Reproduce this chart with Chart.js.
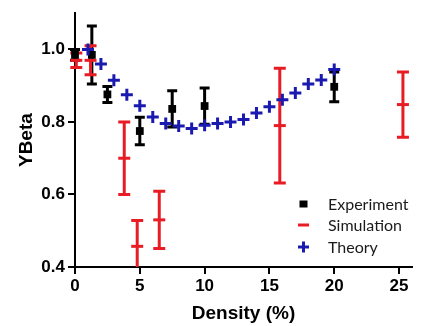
<!DOCTYPE html>
<html>
<head>
<meta charset="utf-8">
<script src="https://cdn.jsdelivr.net/npm/chart.js@4/dist/chart.umd.min.js"></script>
<style>
  html, body { margin: 0; padding: 0; background: #fff; }
  canvas { display: block; }
</style>
</head>
<body>
<canvas id="chart" width="421" height="326"></canvas>
<script>
// data
const seriesNames = ['Experiment', 'Simulation', 'Theory'];

const expX = [0, 1.3, 2.5, 5, 7.5, 10, 20];
const expY = [0.985, 0.985, 0.876, 0.775, 0.836, 0.844, 0.897];
const expErr = [0.015, 0.08, 0.022, 0.038, 0.05, 0.05, 0.041];

const simX = [0.1, 1.2, 3.8, 4.8, 6.5, 15.8, 25.3];
const simY = [0.97, 0.97, 0.70, 0.457, 0.53, 0.79, 0.848];
const simErr = [0.02, 0.04, 0.10, 0.071, 0.079, 0.158, 0.09];

const theoryX = [1, 2, 3, 4, 5, 6, 7, 8, 9, 10, 11, 12, 13, 14, 15, 16, 17, 18, 19, 20];
const theoryY = [1.0, 0.96, 0.915, 0.875, 0.845, 0.814, 0.796, 0.789, 0.782, 0.791,
                 0.796, 0.80, 0.807, 0.825, 0.842, 0.861, 0.88, 0.905, 0.916, 0.945];

const xTicks = [0, 5, 10, 15, 20, 25];
const yTicks = [0.4, 0.6, 0.8, 1.0];

const RED = '#e81c24';
const BLUE = '#1a1ab0';

function pts(xs, ys) {
    return xs.map((x, i) => ({ x: x, y: ys[i] }));
}

// vertical error bars with caps, drawn under the markers
const errorBars = {
    id: 'errorBars',
    beforeDatasetsDraw(chart) {
        const { ctx, chartArea, scales: { x, y } } = chart;
        ctx.save();
        ctx.beginPath();
        ctx.rect(chartArea.left - 10, chartArea.top, chartArea.width + 20, chartArea.height);
        ctx.clip();
        chart.data.datasets.forEach(ds => {
            if (!ds.errors) return;
            ctx.strokeStyle = ds.borderColor;
            ctx.lineWidth = ds.errorWidth;
            ds.data.forEach((p, i) => {
                const px = x.getPixelForValue(p.x);
                const top = y.getPixelForValue(p.y + ds.errors[i]);
                const bot = y.getPixelForValue(p.y - ds.errors[i]);
                const c = ds.capSize / 2;
                ctx.beginPath();
                ctx.moveTo(px, top); ctx.lineTo(px, bot);
                ctx.moveTo(px - c, top); ctx.lineTo(px + c, top);
                ctx.moveTo(px - c, bot); ctx.lineTo(px + c, bot);
                ctx.stroke();
            });
        });
        ctx.restore();
    }
};

// legend in the lower right of the plot
const cornerLegend = {
    id: 'cornerLegend',
    afterDraw(chart) {
        const ctx = chart.ctx;
        const rows = [204, 225, 247];
        ctx.save();
        ctx.font = '16px Lato, "Open Sans", sans-serif';
        ctx.textBaseline = 'middle';
        seriesNames.forEach((name, i) => {
            const ry = rows[i];
            if (i === 0) {
                ctx.fillStyle = '#000';
                ctx.fillRect(299.5, ry - 3.5, 8, 7);
            } else if (i === 1) {
                ctx.strokeStyle = RED; ctx.lineWidth = 3;
                ctx.beginPath(); ctx.moveTo(298, ry); ctx.lineTo(309, ry); ctx.stroke();
            } else {
                ctx.strokeStyle = BLUE; ctx.lineWidth = 3;
                ctx.beginPath();
                ctx.moveTo(298, ry); ctx.lineTo(309, ry);
                ctx.moveTo(303.5, ry - 5.5); ctx.lineTo(303.5, ry + 5.5);
                ctx.stroke();
            }
            ctx.fillStyle = '#1a1a1a';
            ctx.fillText(name, 328, ry + 1);
        });
        ctx.restore();
    }
};

const tickFont = { family: '"Liberation Sans Narrow", "Arial Narrow", Arial, sans-serif', size: 17, weight: 'bold' };
const titleFont = { family: 'Arial, "Liberation Sans", sans-serif', size: 19, weight: 'bold' };

new Chart(document.getElementById('chart'), {
    type: 'scatter',
    data: {
        datasets: [
            {
                label: seriesNames[2],
                data: pts(theoryX, theoryY),
                pointStyle: 'cross',
                pointRadius: 6,
                borderWidth: 3,
                borderColor: BLUE,
                backgroundColor: BLUE,
                clip: false,
                order: 0
            },
            {
                label: seriesNames[0],
                data: pts(expX, expY),
                errors: expErr,
                errorWidth: 3,
                capSize: 10,
                pointStyle: 'rect',
                pointRadius: 5.5,
                borderWidth: 0,
                borderColor: '#000',
                backgroundColor: '#000',
                clip: false,
                order: 1
            },
            {
                label: seriesNames[1],
                data: pts(simX, simY),
                errors: simErr,
                errorWidth: 3,
                capSize: 12,
                pointStyle: 'line',
                pointRadius: 6,
                borderWidth: 3,
                borderColor: RED,
                backgroundColor: RED,
                clip: false,
                order: 2
            }
        ]
    },
    options: {
        responsive: false,
        animation: false,
        devicePixelRatio: 1,
        layout: { padding: { top: 8, right: 8, left: 0, bottom: 0 } },
        plugins: {
            legend: { display: false },
            tooltip: { enabled: false }
        },
        scales: {
            x: {
                type: 'linear',
                min: 0,
                max: 26,
                afterBuildTicks: s => { s.ticks = xTicks.map(v => ({ value: v })); },
                afterFit: s => { s.height = 59; },
                grid: { drawOnChartArea: false, drawTicks: true, tickLength: 7, color: '#000', lineWidth: 2 },
                border: { color: '#000', width: 2 },
                ticks: { color: '#000', font: tickFont, padding: 2, maxRotation: 0 },
                title: { display: true, text: 'Density (%)', color: '#000', font: titleFont, padding: { top: 0, bottom: 1 } }
            },
            y: {
                type: 'linear',
                min: 0.4,
                max: 1.1,
                afterBuildTicks: s => { s.ticks = yTicks.map(v => ({ value: v })); },
                afterFit: s => { s.width = 75; },
                grid: { drawOnChartArea: false, drawTicks: true, tickLength: 7, color: '#000', lineWidth: 2 },
                border: { color: '#000', width: 2 },
                ticks: { color: '#000', font: tickFont, padding: 3, callback: v => v.toFixed(1) },
                title: { display: true, text: 'YBeta', color: '#000', font: titleFont, padding: { top: 15, bottom: 0 } }
            }
        }
    },
    plugins: [errorBars, cornerLegend]
});
</script>
</body>
</html>
